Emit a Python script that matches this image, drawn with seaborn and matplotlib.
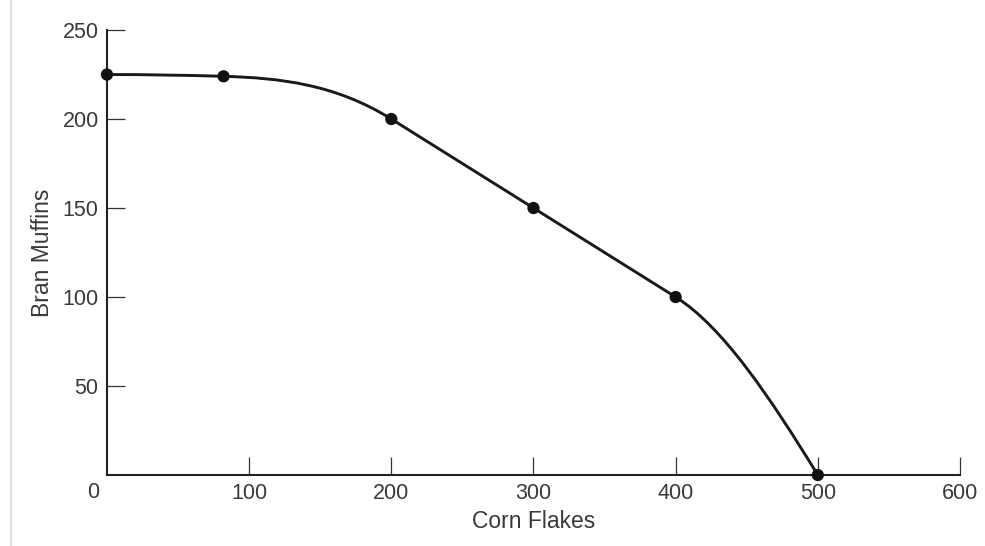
import numpy as np
import pandas as pd
import seaborn as sns
from matplotlib import pyplot as plt
from matplotlib.path import Path
from matplotlib.patches import PathPatch
from matplotlib.lines import Line2D

corn_flakes = [0, 82, 200, 300, 400, 500]
bran_muffins = [225, 224, 200, 150, 100, 0]
x_ticks = [100, 200, 300, 400, 500, 600]
y_ticks = [50, 100, 150, 200, 250]

df = pd.DataFrame({"Corn Flakes": corn_flakes, "Bran Muffins": bran_muffins})


def smooth_path(xs, ys):
    # hermite curve through the points (harmonic-mean tangents), as bezier segments
    x = np.asarray(xs, float)
    y = np.asarray(ys, float)
    h = np.diff(x)
    s = np.diff(y) / h
    d = np.zeros_like(x)
    for i in range(1, len(x) - 1):
        if s[i - 1] * s[i] > 0:
            d[i] = 2 * s[i - 1] * s[i] / (s[i - 1] + s[i])
    # keep collinear runs straight
    for i in range(1, len(s)):
        if np.isclose(s[i - 1], s[i]):
            d[i - 1] = d[i] = d[i + 1] = s[i]
    d[0] = 0.0
    d[-1] = s[-1] * 1.3
    verts = [(x[0], y[0])]
    codes = [Path.MOVETO]
    for i in range(len(x) - 1):
        verts += [(x[i] + h[i] / 3, y[i] + d[i] * h[i] / 3),
                  (x[i + 1] - h[i] / 3, y[i + 1] - d[i + 1] * h[i] / 3),
                  (x[i + 1], y[i + 1])]
        codes += [Path.CURVE4] * 3
    return Path(verts, codes)


sns.set_theme(style="white")
plt.rcParams["font.family"] = ["Liberation Sans", "DejaVu Sans"]

fig = plt.figure(figsize=(9.85, 5.46), dpi=100)
ax = fig.add_axes([0.1086, 0.13, 0.866, 0.815])

ax.add_patch(PathPatch(smooth_path(corn_flakes, bran_muffins), fill=False,
                       edgecolor="#1a1a1a", linewidth=2.1, clip_on=False))
sns.scatterplot(data=df, x="Corn Flakes", y="Bran Muffins", ax=ax, color="#111111",
                s=78, edgecolor="none", zorder=5, clip_on=False)

ax.set_xlim(0, 600)
ax.set_ylim(0, 250)
ax.set_xticks(x_ticks)
ax.set_yticks(y_ticks)
ax.tick_params(bottom=True, left=True, direction="in", length=13, width=0.9,
               color="#333333", labelsize=15.5, labelcolor="#3a3a3a", pad=6)

for side in ["top", "right"]:
    ax.spines[side].set_visible(False)
for side in ["left", "bottom"]:
    ax.spines[side].set_linewidth(1.5)
    ax.spines[side].set_color("#222222")

ax.annotate("0", xy=(0, 0), xytext=(-14, -17), textcoords="offset pixels",
            ha="center", va="center", fontsize=15.5, color="#3a3a3a")

ax.set_xlabel("Corn Flakes", fontsize=16.5, color="#3a3a3a", labelpad=4)
ax.set_ylabel("Bran Muffins", fontsize=16.5, color="#3a3a3a", labelpad=6)

fig.add_artist(Line2D([0.011, 0.011], [0, 1], color="#dddddd", linewidth=1.5))

fig.savefig("out.png", dpi=100)
